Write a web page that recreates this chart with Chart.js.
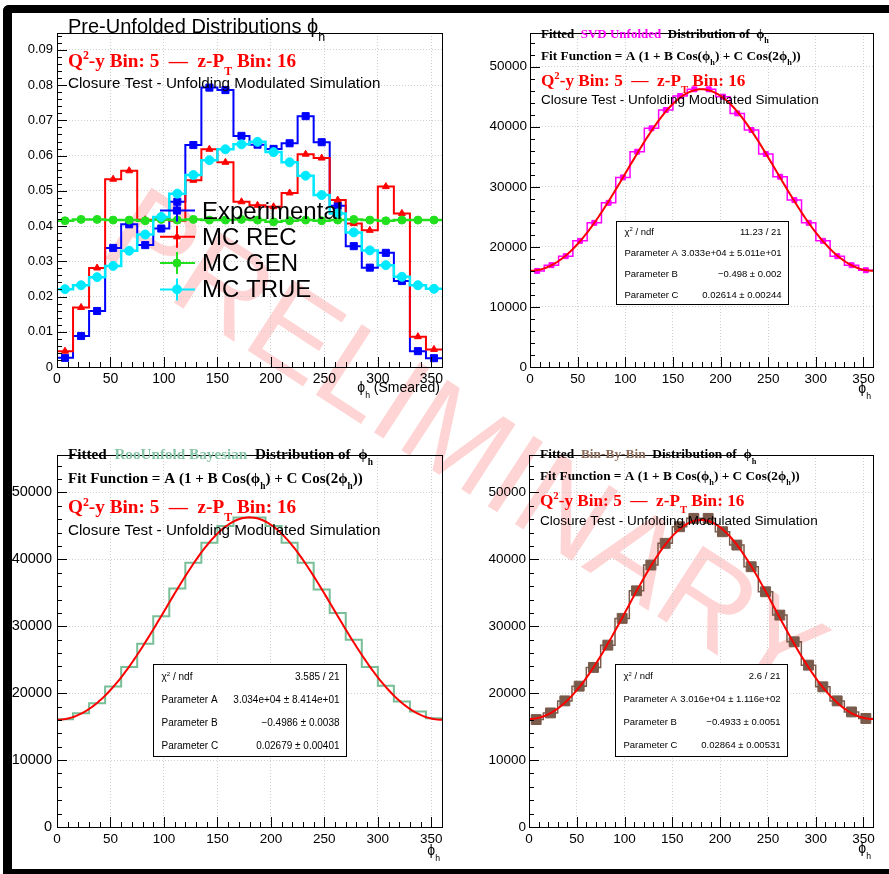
<!DOCTYPE html>
<html>
<head>
<meta charset="utf-8">
<script src="https://cdn.jsdelivr.net/npm/chart.js@4.4.0/dist/chart.umd.min.js"></script>
<style>
  body { margin: 0; width: 889px; height: 874px; background: #fff; position: relative; overflow: hidden; }
  #moldura { position: absolute; left: 3px; top: 5px; right: -20px; bottom: 0; border-top: 8px solid #000; border-left: 9px solid #000; border-bottom: 5px solid #000; border-top-left-radius: 6px; }
  #marca { position: absolute; left: 466px; top: 442px; transform: translate(-50%, -50%) rotate(33deg); font: 122px "Liberation Sans", Arial, sans-serif; color: rgba(255, 0, 0, 0.17); white-space: nowrap; }
  canvas { position: absolute; }
</style>
</head>
<body>
<div id="moldura"></div>
<div id="marca">PRELIMINARY</div>
<canvas id="painelPre" width="440" height="405" style="left:12px; top:13px"></canvas>
<canvas id="painelSVD" width="431" height="405" style="left:458px; top:13px"></canvas>
<canvas id="painelBayes" width="440" height="449" style="left:12px; top:420px"></canvas>
<canvas id="painelBin" width="431" height="449" style="left:458px; top:420px"></canvas>
<script>
// bins de phi_h: 24 bins de 15 graus
const centrosPhi = [7.5, 22.5, 37.5, 52.5, 67.5, 82.5, 97.5, 112.5, 127.5, 142.5, 157.5, 172.5,
  187.5, 202.5, 217.5, 232.5, 247.5, 262.5, 277.5, 292.5, 307.5, 322.5, 337.5, 352.5];
const larguraBin = 15;
const ticksX = [0, 50, 100, 150, 200, 250, 300, 350];

// distribuicoes normalizadas antes do unfolding
const experimental = [0.0026, 0.0088, 0.0159, 0.0338, 0.0405, 0.0346, 0.0393, 0.0469, 0.0630, 0.0793, 0.0786, 0.0656,
  0.0631, 0.0619, 0.0635, 0.0712, 0.0638, 0.0458, 0.0343, 0.0282, 0.0324, 0.0244, 0.0045, 0.0025];
const mcRec = [0.0045, 0.0169, 0.0281, 0.0533, 0.0557, 0.0418, 0.0419, 0.0415, 0.0530, 0.0618, 0.0581, 0.0469,
  0.0459, 0.0455, 0.0494, 0.0604, 0.0593, 0.0474, 0.0407, 0.0388, 0.0512, 0.0436, 0.0086, 0.0050];
const mcGen = [0.0415, 0.0419, 0.0419, 0.0417, 0.0417, 0.0415, 0.0419, 0.0417, 0.0419, 0.0417, 0.0417, 0.0419,
  0.0417, 0.0412, 0.0415, 0.0417, 0.0415, 0.0417, 0.0419, 0.0417, 0.0415, 0.0417, 0.0417, 0.0417];
const mcTrue = [0.0221, 0.0232, 0.0255, 0.0287, 0.0330, 0.0376, 0.0426, 0.0492, 0.0545, 0.0587, 0.0618, 0.0632,
  0.0639, 0.0610, 0.0581, 0.0543, 0.0488, 0.0436, 0.0382, 0.0331, 0.0289, 0.0256, 0.0232, 0.0222];
const rotulosLegenda = ['Experimental', 'MC REC', 'MC GEN', 'MC TRUE'];
const ticksYNorm = [0, 0.01, 0.02, 0.03, 0.04, 0.05, 0.06, 0.07, 0.08, 0.09];

// distribuicoes depois do unfolding
const svdUnfolded = [16000, 16950, 18450, 21000, 24000, 27330, 31560, 35840, 39740, 42790, 45120, 46230,
  46230, 45000, 42220, 39450, 35450, 31670, 27780, 24000, 21000, 18450, 16950, 16110];
const bayesUnfolded = [16100, 17000, 18500, 21000, 23900, 27400, 31500, 35650, 39500, 42500, 45000, 46250,
  46250, 45000, 42500, 39500, 35500, 32000, 28000, 23900, 21100, 18750, 17250, 16250];
const binByBin = [16060, 17050, 18850, 21050, 23850, 27180, 31180, 35300, 39150, 42400, 44880, 46130,
  46130, 44130, 42140, 38900, 35160, 31670, 27680, 24190, 20950, 18850, 17200, 16220];
const ticksYContagens = [0, 10000, 20000, 30000, 40000, 50000];

// parametros do ajuste A (1 + B cos(phi) + C cos(2 phi))
const ajusteSVD = [30330, -0.498, 0.02614];
const ajusteBayes = [30340, -0.4986, 0.02679];
const ajusteBin = [30160, -0.4933, 0.02864];
const statsSVD = ['11.23 / 21', '3.033e+04 ± 5.011e+01', '−0.498 ± 0.002', '0.02614 ± 0.00244'];
const statsBayes = ['3.585 / 21', '3.034e+04 ± 8.414e+01', '−0.4986 ± 0.0038', '0.02679 ± 0.00401'];
const statsBin = ['2.6 / 21', '3.016e+04 ± 1.116e+02', '−0.4933 ± 0.0051', '0.02864 ± 0.00531'];

const SANS = '"Liberation Sans", Arial, sans-serif';
const SERIF = '"Liberation Serif", "Times New Roman", serif';
Chart.defaults.font.family = SANS;
Chart.defaults.color = '#000';

function degraus(valores) {
  const pts = valores.map((v, i) => ({ x: centrosPhi[i] - larguraBin / 2, y: v }));
  pts.push({ x: centrosPhi[centrosPhi.length - 1] + larguraBin / 2, y: valores[valores.length - 1] });
  return pts;
}

function pontos(valores) {
  return valores.map((v, i) => ({ x: centrosPhi[i], y: v }));
}

function curvaAjuste([A, B, C]) {
  const pts = [];
  for (let phi = 0; phi <= 360; phi += 2) {
    const r = phi * Math.PI / 180;
    pts.push({ x: phi, y: A * (1 + B * Math.cos(r) + C * Math.cos(2 * r)) });
  }
  return pts;
}

function escreverRico(ctx, x, y, item) {
  const tam = item.tamanho;
  const peso = item.peso || 'normal';
  ctx.textAlign = 'left';
  ctx.textBaseline = 'alphabetic';
  let largura = 0;
  item.partes.forEach(([t, tipo]) => {
    ctx.font = `${peso} ${tipo ? tam * 0.62 : tam}px ${item.familia}`;
    largura += ctx.measureText(t).width;
  });
  let cx = item.direita ? x - largura : x;
  item.partes.forEach(([t, tipo, cor]) => {
    ctx.font = `${peso} ${tipo ? tam * 0.62 : tam}px ${item.familia}`;
    ctx.fillStyle = cor || item.cor || '#000';
    let dy = 0;
    if (tipo === 'sup') dy = -tam * 0.4;
    if (tipo === 'sub') dy = tam * 0.4;
    ctx.fillText(t, cx, y + dy);
    cx += ctx.measureText(t).width;
  });
}

function linha(ctx, x0, y0, x1, y1) {
  ctx.beginPath();
  ctx.moveTo(x0, y0);
  ctx.lineTo(x1, y1);
  ctx.stroke();
}

// plugin que desenha moldura, ticks internos, textos, legenda e caixa de estatisticas
function estiloRoot(cfg) {
  return {
    id: 'estiloRoot',
    afterDatasetsDraw(chart) {
      const ctx = chart.ctx;
      const a = chart.chartArea;
      const sx = chart.scales.x;
      const sy = chart.scales.y;
      ctx.save();
      ctx.strokeStyle = '#000';
      ctx.lineWidth = 1;

      for (let v = 0; v <= 360; v += 10) {
        const px = Math.round(sx.getPixelForValue(v)) + 0.5;
        linha(ctx, px, a.bottom, px, a.bottom - (v % 50 === 0 ? 10 : 5));
      }
      for (let k = 0; k * cfg.passoMenor <= cfg.yMax; k++) {
        const py = Math.round(sy.getPixelForValue(k * cfg.passoMenor)) + 0.5;
        linha(ctx, a.left, py, a.left + (k % 5 === 0 ? 10 : 5), py);
      }
      ctx.strokeRect(Math.round(a.left) + 0.5, Math.round(a.top) + 0.5, Math.round(a.right - a.left), Math.round(a.bottom - a.top));

      if (cfg.stats) {
        const s = cfg.stats;
        const w = a.right - a.left, h = a.bottom - a.top;
        const bx = Math.round(a.left + 0.25 * w) + 0.5, by = Math.round(a.top + 0.562 * h) + 0.5;
        const bw = Math.round(0.5 * w), bh = Math.round(0.248 * h);
        ctx.fillStyle = '#fff';
        ctx.fillRect(bx, by, bw, bh);
        ctx.strokeRect(bx, by, bw, bh);
        const nomes = [[['χ'], ['2', 'sup'], [' / ndf']], [['Parameter A']], [['Parameter B']], [['Parameter C']]];
        nomes.forEach((p, i) => {
          const yb = by + bh * (i + 0.5) / 4 + s.tamanho * 0.36;
          escreverRico(ctx, bx + 8, yb, { partes: p, tamanho: s.tamanho, familia: SANS });
          escreverRico(ctx, bx + bw - 7, yb, { partes: [[s.valores[i]]], tamanho: s.tamanho, familia: SANS, direita: true });
        });
      }

      if (cfg.legenda) {
        cfg.legenda.forEach((e, i) => {
          const yb = a.top + 185.5 + 26.3 * i;
          const ym = yb - 8;
          const xm = a.left + 120;
          ctx.strokeStyle = e.cor;
          ctx.fillStyle = e.cor;
          ctx.lineWidth = 2;
          linha(ctx, a.left + 103, ym, a.left + 138, ym);
          linha(ctx, xm, ym - 11, xm, ym + 11);
          ctx.lineWidth = 1;
          Chart.helpers.drawPoint(ctx, { pointStyle: e.estilo, radius: e.raio, rotation: 0, borderWidth: 1 }, xm, ym);
          escreverRico(ctx, a.left + 145, yb, { partes: [[rotulosLegenda[i]]], tamanho: 24, familia: SANS });
        });
      }

      cfg.textos.forEach(t => {
        const x = t.direita ? a.right + t.dx : a.left + t.dx;
        const y = t.embaixo ? a.bottom + t.dy : a.top + t.dy;
        escreverRico(ctx, x, y, t);
      });
      ctx.restore();
    }
  };
}

function linhaQ2(dy, tamanho) {
  return { dx: 11, dy, tamanho, familia: SERIF, peso: 'bold', cor: '#ff0000',
    partes: [['Q'], ['2', 'sup'], ['-y Bin: 5  —  z-P'], ['T', 'sub'], [' Bin: 16']] };
}

function linhaClosure(dy, tamanho) {
  return { dx: 11, dy, tamanho, familia: SANS, partes: [['Closure Test - Unfolding Modulated Simulation']] };
}

function linhaTitulo(dy, tamanho, metodo, cor) {
  return { dx: 11, dy, tamanho, familia: SERIF, peso: 'bold',
    partes: [['Fitted  '], [metodo, '', cor], ['  Distribution of  ϕ'], ['h', 'sub']] };
}

function linhaFuncao(dy, tamanho) {
  return { dx: 11, dy, tamanho, familia: SERIF, peso: 'bold',
    partes: [['Fit Function = A (1 + B Cos(ϕ'], ['h', 'sub'], [') + C Cos(2ϕ'], ['h', 'sub'], ['))']] };
}

function tituloEixo(dy, extra) {
  return { dx: -2, dy, direita: true, embaixo: true, tamanho: 14, familia: SANS,
    partes: [['ϕ'], ['h', 'sub'], [extra]] };
}

function criarPainel(id, cfg) {
  const eixoY = {
    type: 'linear', min: 0, max: cfg.yMax,
    afterBuildTicks: s => { s.ticks = cfg.ticksY.map(v => ({ value: v })); },
    afterFit: s => { s.width = cfg.larguraY; },
    grid: { color: '#cfcfcf', drawTicks: false },
    border: { display: false, dash: [1, 2] },
    ticks: { padding: cfg.padY, autoSkip: false, font: { size: cfg.fonteY }, callback: cfg.rotuloY }
  };
  const eixoX = {
    type: 'linear', min: 0, max: 360,
    afterBuildTicks: s => { s.ticks = ticksX.map(v => ({ value: v })); },
    afterFit: s => { s.height = cfg.alturaX; },
    grid: { color: '#cfcfcf', drawTicks: false },
    border: { display: false, dash: [1, 2] },
    ticks: { padding: cfg.padX, autoSkip: false, maxRotation: 0, font: { size: cfg.fonteX }, callback: v => String(v) }
  };
  return new Chart(document.getElementById(id).getContext('2d'), {
    type: 'line',
    data: { datasets: cfg.datasets },
    options: {
      responsive: false,
      animation: false,
      devicePixelRatio: 1,
      layout: { padding: { top: cfg.topo, right: cfg.direita, left: 0, bottom: 0 } },
      plugins: { legend: { display: false }, tooltip: { enabled: false } },
      scales: { x: eixoX, y: eixoY }
    },
    plugins: [estiloRoot(cfg)]
  });
}

function histograma(valores, cor, largura) {
  return { data: degraus(valores), borderColor: cor, borderWidth: largura, stepped: true, pointRadius: 0, fill: false };
}

function marcadores(valores, cor, estilo, raio) {
  return { data: pontos(valores), showLine: false, pointStyle: estilo, pointRadius: raio,
    pointBackgroundColor: cor, pointBorderColor: cor, pointBorderWidth: 1 };
}

function ajuste(param) {
  return { data: curvaAjuste(param), borderColor: '#ff0000', borderWidth: 2, pointRadius: 0, tension: 0, fill: false };
}

const CORES = { exp: '#0000ff', rec: '#ff0000', gen: '#22e01e', tru: '#00eaff', svd: '#ff00ff', bayes: '#78be96', bin: '#7a5a4a' };

criarPainel('painelPre', {
  yMax: 0.0948, passoMenor: 0.002, ticksY: ticksYNorm,
  rotuloY: v => (v === 0 ? '0' : v.toFixed(2)),
  larguraY: 45, alturaX: 51, topo: 20, direita: 10, padY: 4, padX: 4, fonteX: 14, fonteY: 13,
  datasets: [
    marcadores(mcTrue, CORES.tru, 'circle', 4.5), histograma(mcTrue, CORES.tru, 2.5),
    marcadores(mcGen, CORES.gen, 'circle', 4), histograma(mcGen, CORES.gen, 2.5),
    marcadores(mcRec, CORES.rec, 'triangle', 4), histograma(mcRec, CORES.rec, 2),
    marcadores(experimental, CORES.exp, 'rect', 5), histograma(experimental, CORES.exp, 2)
  ],
  legenda: [
    { cor: CORES.exp, estilo: 'rect', raio: 5 },
    { cor: CORES.rec, estilo: 'triangle', raio: 4 },
    { cor: CORES.gen, estilo: 'circle', raio: 4 },
    { cor: CORES.tru, estilo: 'circle', raio: 4.5 }
  ],
  textos: [
    { dx: 11, dy: 0, tamanho: 20, familia: SANS, partes: [['Pre-Unfolded Distributions ϕ'], ['h', 'sub']] },
    linhaQ2(34, 19.2),
    linhaClosure(55, 15.2),
    tituloEixo(25, ' (Smeared)')
  ]
});

const rotuloContagem = v => String(v);

criarPainel('painelSVD', {
  yMax: 55600, passoMenor: 2000, ticksY: ticksYContagens, rotuloY: rotuloContagem,
  larguraY: 72, alturaX: 51, topo: 20, direita: 16, padY: 3, padX: 4, fonteX: 13.5, fonteY: 13.5,
  datasets: [ajuste(ajusteSVD), marcadores(svdUnfolded, CORES.svd, 'rect', 3.5), histograma(svdUnfolded, CORES.svd, 1.5)],
  stats: { tamanho: 9.5, valores: statsSVD },
  textos: [
    linhaTitulo(4.5, 13, 'SVD Unfolded', CORES.svd),
    linhaFuncao(27, 13.3),
    linhaQ2(53, 17.2),
    linhaClosure(71, 13.5),
    tituloEixo(26, '')
  ]
});

criarPainel('painelBayes', {
  yMax: 55600, passoMenor: 2000, ticksY: ticksYContagens, rotuloY: rotuloContagem,
  larguraY: 45, alturaX: 42, topo: 35, direita: 10, padY: 5, padX: 4, fonteX: 13.5, fonteY: 14.5,
  datasets: [ajuste(ajusteBayes), histograma(bayesUnfolded, CORES.bayes, 2)],
  stats: { tamanho: 10, valores: statsBayes },
  textos: [
    linhaTitulo(4.3, 15.2, 'RooUnfold Bayesian', '#86c4a6'),
    linhaFuncao(28.3, 15.1),
    linhaQ2(58.3, 19.2),
    linhaClosure(80, 15.2),
    tituloEixo(28, '')
  ]
});

criarPainel('painelBin', {
  yMax: 55600, passoMenor: 2000, ticksY: ticksYContagens, rotuloY: rotuloContagem,
  larguraY: 71, alturaX: 42, topo: 35, direita: 16, padY: 3, padX: 4, fonteX: 13.5, fonteY: 13.5,
  datasets: [ajuste(ajusteBin), marcadores(binByBin, CORES.bin, 'rect', 7), histograma(binByBin, CORES.bin, 1.5)],
  stats: { tamanho: 9.5, valores: statsBin },
  textos: [
    linhaTitulo(3.3, 13.4, 'Bin-By-Bin', '#8a6a58'),
    linhaFuncao(25, 13.3),
    linhaQ2(51, 17.2),
    linhaClosure(70, 13.5),
    tituloEixo(26, '')
  ]
});
</script>
</body>
</html>
